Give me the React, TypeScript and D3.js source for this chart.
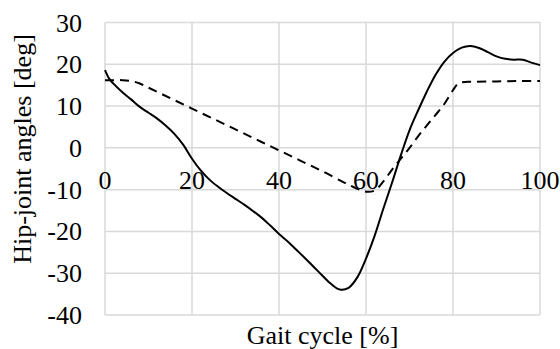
import * as d3 from "d3";
import React, { useEffect, useRef } from "react";

// gait cycle [%] and hip-joint angles [deg]
const solidX = [0, 1, 2, 4, 6, 8, 10, 12, 14, 16, 18, 20, 22, 24, 26, 28, 30, 32, 34, 36, 38, 40, 42, 44, 46, 48, 50, 52, 54, 56, 58, 60, 62, 64, 66, 68, 70, 72, 74, 76, 78, 80, 82, 84, 86, 88, 90, 92, 94, 96, 98, 100];
const solidY = [18.6, 16.5, 15.3, 13.3, 11.6, 9.8, 8.4, 7.0, 5.3, 3.3, 0.7, -2.6, -5.4, -7.6, -9.3, -10.8, -12.2, -13.6, -15.1, -16.7, -18.6, -20.6, -22.4, -24.4, -26.4, -28.5, -30.6, -32.6, -33.9, -33.5, -31.0, -26.5, -21.0, -14.5, -8.3, -1.8, 4.2, 9.0, 13.5, 17.5, 20.6, 22.7, 24.0, 24.4, 23.9, 22.9, 21.9, 21.3, 21.1, 21.1, 20.4, 19.8];

const dashX = [0, 2, 4, 6, 8, 10, 15, 20, 25, 30, 35, 40, 45, 50, 55, 58, 60, 62, 64, 66, 68, 70, 72, 74, 76, 78, 80, 81, 82, 85, 90, 95, 100];
const dashY = [16.2, 16.2, 16.2, 16.0, 15.4, 14.4, 11.9, 9.4, 6.9, 4.4, 1.9, -0.6, -3.1, -5.6, -8.3, -9.8, -10.5, -10.2, -8.0, -5.2, -2.6, 0.0, 2.8, 5.4, 7.9, 10.5, 13.8, 15.2, 15.7, 15.8, 15.9, 16.0, 16.0];

const xTicks = [0, 20, 40, 60, 80, 100];
const yTicks = [30, 20, 10, 0, -10, -20, -30, -40];

const xTitle = "Gait cycle [%]";
const yTitle = "Hip-joint angles [deg]";

const FONT = "Liberation Serif, Times New Roman, serif";

const App: React.FC = () => {
  const svgRef = useRef<SVGSVGElement | null>(null);

  useEffect(() => {
    const svg = d3.select(svgRef.current);
    svg.selectAll("*").remove();

    const x = d3.scaleLinear().domain([0, 100]).range([105, 540]);
    const y = d3.scaleLinear().domain([-40, 30]).range([315, 22.5]);

    // grid
    const grid = svg.append("g").attr("stroke", "#d9d9d9").attr("stroke-width", 1.5);
    grid
      .selectAll("line.h")
      .data(yTicks)
      .join("line")
      .attr("class", "h")
      .attr("x1", x(0))
      .attr("x2", x(100))
      .attr("y1", (d) => y(d))
      .attr("y2", (d) => y(d));
    grid
      .selectAll("line.v")
      .data(xTicks)
      .join("line")
      .attr("class", "v")
      .attr("x1", (d) => x(d))
      .attr("x2", (d) => x(d))
      .attr("y1", y(30))
      .attr("y2", y(-40));

    // y tick labels
    svg
      .append("g")
      .selectAll("text")
      .data(yTicks)
      .join("text")
      .attr("x", 82)
      .attr("y", (d) => y(d) + 9)
      .attr("text-anchor", "end")
      .attr("font-family", FONT)
      .attr("font-size", 26)
      .attr("fill", "#000")
      .text((d) => d);

    // x tick labels sit under the zero line
    svg
      .append("g")
      .selectAll("text")
      .data(xTicks)
      .join("text")
      .attr("x", (d) => x(d))
      .attr("y", y(0) + 41)
      .attr("text-anchor", "middle")
      .attr("font-family", FONT)
      .attr("font-size", 26)
      .attr("fill", "#000")
      .text((d) => d);

    const line = d3
      .line<[number, number]>()
      .x((d) => x(d[0]))
      .y((d) => y(d[1]))
      .curve(d3.curveCatmullRom.alpha(0.5));

    svg
      .append("path")
      .datum(dashX.map((v, i) => [v, dashY[i]] as [number, number]))
      .attr("fill", "none")
      .attr("stroke", "#000")
      .attr("stroke-width", 2)
      .attr("stroke-dasharray", "9,6")
      .attr("d", line);

    svg
      .append("path")
      .datum(solidX.map((v, i) => [v, solidY[i]] as [number, number]))
      .attr("fill", "none")
      .attr("stroke", "#000")
      .attr("stroke-width", 2)
      .attr("d", line);

    // axis titles
    svg
      .append("text")
      .attr("x", (x(0) + x(100)) / 2)
      .attr("y", 344)
      .attr("text-anchor", "middle")
      .attr("font-family", FONT)
      .attr("font-size", 26)
      .text(xTitle);

    svg
      .append("text")
      .attr("transform", "translate(31,149) rotate(-90)")
      .attr("text-anchor", "middle")
      .attr("font-family", FONT)
      .attr("font-size", 26)
      .text(yTitle);
  }, []);

  return (
    <svg
      ref={svgRef}
      width={560}
      height={349}
      style={{ position: "absolute", left: 0, top: 0, background: "#fff" }}
    ></svg>
  );
};

export default App;
